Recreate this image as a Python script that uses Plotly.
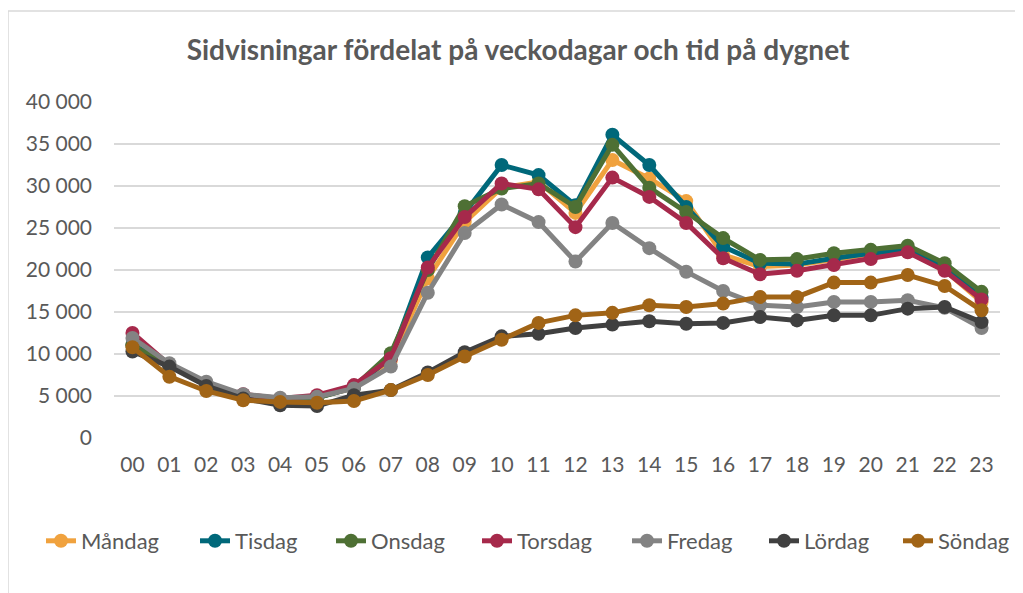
import plotly.graph_objects as go

hours = [f"{h:02d}" for h in range(24)]

mandag  = [11200, 8700, 6400, 5100, 4600, 4800, 6000, 9300, 19000, 25700, 29800, 30500, 26800, 33100, 30900, 28200, 21800, 20400, 20600, 21300, 21900, 22200, 20000, 16200]
tisdag  = [11100, 8700, 6300, 5000, 4600, 4800, 6000, 9600, 21500, 26800, 32500, 31300, 27700, 36100, 32500, 27500, 22800, 20800, 20700, 21400, 22000, 22400, 20300, 16800]
onsdag  = [11000, 8600, 6300, 5000, 4500, 4800, 6100, 10100, 20000, 27600, 29700, 30300, 27500, 34900, 29800, 26900, 23800, 21200, 21300, 22000, 22400, 22900, 20800, 17400]
torsdag = [12500, 8700, 6400, 5200, 4700, 5100, 6300, 9500, 20300, 26300, 30300, 29600, 25100, 31000, 28700, 25600, 21400, 19500, 19900, 20600, 21300, 22100, 19900, 16500]
fredag  = [11900, 8900, 6700, 5200, 4800, 4900, 5900, 8500, 17300, 24400, 27800, 25700, 21000, 25600, 22600, 19800, 17500, 15800, 15600, 16200, 16200, 16400, 15500, 13100]
lordag  = [10300, 8500, 6200, 4700, 3900, 3800, 5100, 5700, 7800, 10200, 12100, 12400, 13100, 13500, 13900, 13600, 13700, 14400, 14000, 14600, 14600, 15400, 15600, 13800]
sondag  = [10800, 7300, 5600, 4500, 4300, 4200, 4400, 5700, 7500, 9700, 11700, 13700, 14600, 14900, 15800, 15600, 16000, 16800, 16800, 18500, 18500, 19400, 18100, 15200]

series = [
    ("Måndag", mandag, "#F0A23E"),
    ("Tisdag", tisdag, "#00687A"),
    ("Onsdag", onsdag, "#4E7034"),
    ("Torsdag", torsdag, "#A6294B"),
    ("Fredag", fredag, "#838383"),
    ("Lördag", lordag, "#404040"),
    ("Söndag", sondag, "#A16416"),
]
legend_widths = [109, 91, 101, 105, 92, 89, 80]

ytickvals = [0, 5000, 10000, 15000, 20000, 25000, 30000, 35000, 40000]

fig = go.Figure()
for (name, vals, col), lw in zip(series, legend_widths):
    fig.add_trace(go.Scatter(
        x=hours, y=vals, name=name, mode="lines+markers",
        line=dict(color=col, width=5),
        marker=dict(color=col, size=14),
        legendwidth=lw,
    ))

font_fam = "Lato, Open Sans, sans-serif"
# page has an 8px body margin, so the figure is drawn offset by 8px
W, H = 1015, 585
L, T = 106, 94
PW, PH = 886, 336
fig.update_layout(
    width=W, height=H,
    margin=dict(l=L, r=W - L - PW, t=T, b=H - T - PH),
    paper_bgcolor="white", plot_bgcolor="white",
    separators=", ",
    title=dict(text="<b>Sidvisningar fördelat på veckodagar och tid på dygnet</b>",
               x=(510 - L) / PW, xanchor="center", y=1 - 42 / H, yanchor="middle", xref="paper",
               font=dict(family=font_fam, size=28, color="#595959")),
    xaxis=dict(type="category", range=[-0.5, 23.5], showgrid=False, zeroline=False,
               showline=False, ticks="", ticklabelstandoff=12,
               tickfont=dict(family=font_fam, size=21, color="#595959")),
    yaxis=dict(range=[0, 40000], tickvals=ytickvals, tickformat=",d",
               showgrid=True, gridcolor="#D9D9D9", gridwidth=1.5, zeroline=False,
               showline=False, ticks="", ticklabelstandoff=21,
               tickfont=dict(family=font_fam, size=21, color="#595959")),
    legend=dict(orientation="h", x=(35 - L) / PW, xanchor="left",
                y=(T + PH - 533) / PH, yanchor="middle",
                font=dict(family=font_fam, size=22, color="#595959"),
                itemwidth=30, tracegroupgap=0),
    shapes=[dict(type="rect", xref="paper", yref="paper",
                 x0=(0 - L) / PW, x1=(1040 - L) / PW,
                 y0=(T + PH - 620) / PH, y1=(T + PH - 3) / PH,
                 line=dict(color="#D9D9D9", width=1.5), fillcolor="rgba(0,0,0,0)", layer="below")],
)

fig.write_html("out.html")
